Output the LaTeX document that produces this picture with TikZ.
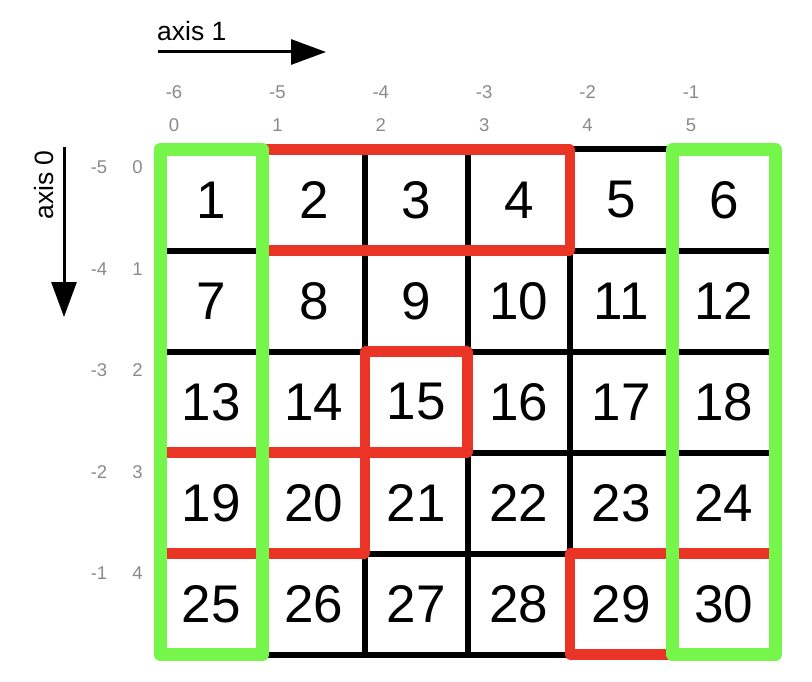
\documentclass[tikz,border=0pt]{standalone}
\usepackage{fontspec}
\setmainfont{Liberation Sans}
\usetikzlibrary{arrows.meta}
\definecolor{selred}{RGB}{234,52,38}
\definecolor{selgreen}{RGB}{118,246,74}
\definecolor{idxgray}{RGB}{138,138,138}
\tikzset{
  gridline/.style={line width=6pt, line cap=rect},
  redbox/.style={draw=selred, line width=10.5pt},
  greenbox/.style={draw=selgreen, line width=13pt},
  cellnum/.style={inner sep=0pt, font=\fontsize{53}{53}\selectfont},
  idx/.style={inner sep=0pt, text=idxgray, font=\fontsize{18.5}{18.5}\selectfont},
  axislabel/.style={inner sep=0pt, font=\fontsize{26.5}{26.5}\selectfont},
  axisarrow/.style={line width=3pt, -{Triangle[length=35pt,width=25pt]}}
}
\begin{document}
\begin{tikzpicture}[x=1pt, y=-1pt, line join=round]
	\useasboundingbox (0,0) rectangle (812,682);
	\def\cw{102.5}
	\def\ch{101}
	\foreach \c in {0,...,6}
	\foreach \r in {0,...,5}
	\coordinate (p\c\r) at (160+\c*\cw,149.5+\r*\ch);
	\foreach \c in {0,...,6}
	\draw[gridline] (p\c0)--(p\c5);
	\foreach \r in {0,...,5}
	\draw[gridline] (p0\r)--(p6\r);
	\foreach \r in {0,...,4}
	\foreach \c in {0,...,5}{
		\pgfmathtruncatemacro\n{\r*6+\c+1}
		\node[cellnum] (c\n) at (160+\c*\cw+\cw/2,149.5+\r*\ch+\ch/2) {\n};
	}
	\draw[redbox] (p10) rectangle (p41);
	\draw[redbox] (p22) rectangle (p33);
	\draw[redbox] (p03) rectangle (p24);
	\draw[redbox] (p44) rectangle (p65);
	\draw[greenbox] (p00) rectangle (p15);
	\draw[greenbox] (p50) rectangle (p65);
	\foreach \c/\n in {0/-6,1/-5,2/-4,3/-3,4/-2,5/-1}{
		\node[idx] (tn\c) at (174+\c*103.4,92) {\n};
		\node[idx] (tp\c) at (174+\c*103.4,125) {\c};
	}
	\foreach \r/\n in {0/-5,1/-4,2/-3,3/-2,4/-1}{
		\node[idx] (ln\r) at (99,167.5+\r*101.5) {\n};
		\node[idx] (lp\r) at (137.5,167.5+\r*101.5) {\r};
	}
	\path
	(158,52) coordinate (a1s)
	(326,52) coordinate (a1e)
	(64,147) coordinate (a0s)
	(64,317) coordinate (a0e);
	\draw[axisarrow] (a1s)--(a1e);
	\draw[axisarrow] (a0s)--(a0e);
	\node[axislabel, anchor=base west] (ax1) at (157,40.5) {axis 1};
	\node[axislabel, anchor=base, rotate=90] (ax0) at (53.3,185) {axis 0};
\end{tikzpicture}
\end{document}
